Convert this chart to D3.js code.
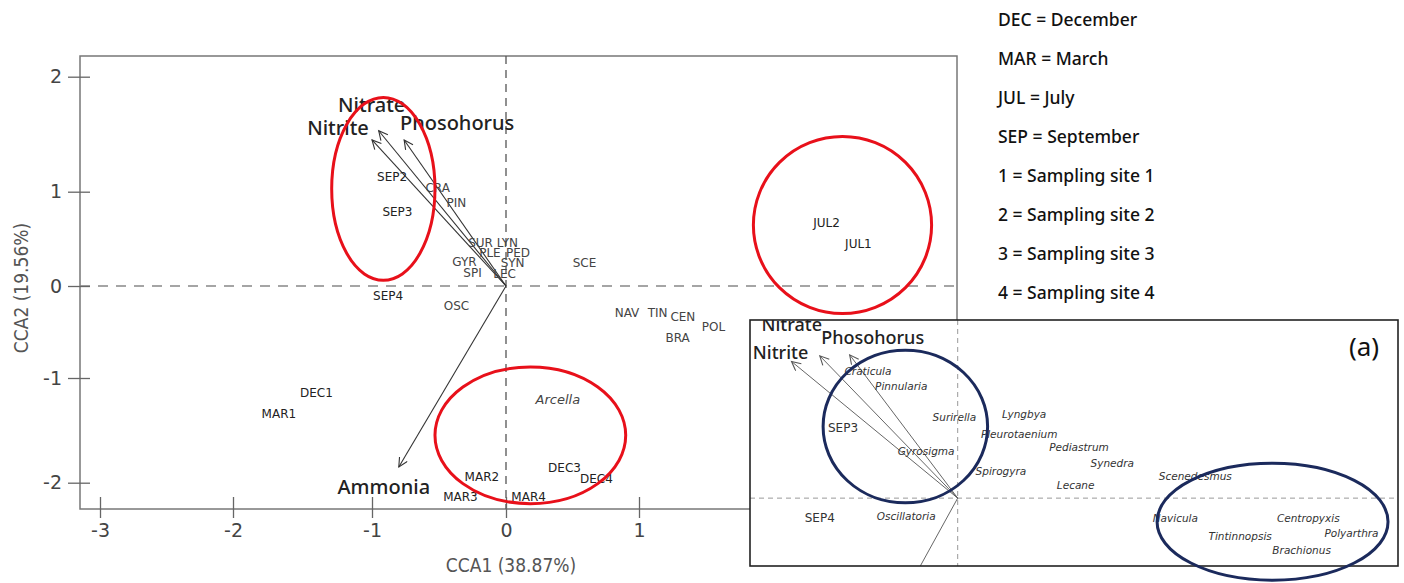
<!DOCTYPE html>
<html>
<head>
<meta charset="utf-8">
<script src="https://cdn.jsdelivr.net/npm/d3@7"></script>
<style>
  body { margin: 0; background: #fff; }
  svg { display: block; }
  .tick text { font-family: "DejaVu Sans", sans-serif; font-size: 19px; fill: #444; }
  .tick line { stroke: #666; stroke-width: 1.3; }
  .site { font-family: "DejaVu Sans", sans-serif; font-size: 12px; fill: #222; }
  .spec { font-family: "DejaVu Sans", sans-serif; font-size: 12px; fill: #444; }
  .env { font-family: "Noto Sans", sans-serif; font-size: 20px; font-weight: 500; fill: #222; }
  .legend { font-family: "Noto Sans", sans-serif; font-size: 17.5px; font-weight: 500; fill: #111; }
  .ititle { font-family: "DejaVu Sans Condensed", "DejaVu Sans", sans-serif; font-size: 19px; fill: #555; }
  .ispec { font-family: "DejaVu Sans", sans-serif; font-size: 10.5px; font-style: italic; fill: #333; }
</style>
</head>
<body>
<div id="chart"></div>
<script>
// axis ticks
var xTicks = [-3, -2, -1, 0, 1];
var yTicks = [-2, -1, 0, 1, 2];

// sampling sites (main biplot)
var siteNames = ["SEP2", "SEP3", "SEP4", "JUL2", "JUL1", "DEC1", "MAR1", "MAR2", "DEC3", "DEC4", "MAR3", "MAR4"];
var siteX = [-0.85, -0.81, -0.88, 2.41, 2.65, -1.40, -1.67, -0.18, 0.44, 0.68, -0.34, 0.17];
var siteY = [1.13, 0.78, -0.11, 0.67, 0.45, -1.14, -1.34, -1.95, -1.86, -1.96, -2.14, -2.14];

// species (main biplot)
var specNames = ["CRA", "PIN", "SUR", "LYN", "PLE", "PED", "GYR", "SYN", "SPI", "LEC", "SCE", "OSC", "NAV", "TIN", "CEN", "BRA", "POL", "Arcella"];
var specX = [-0.51, -0.37, -0.19, 0.01, -0.12, 0.09, -0.31, 0.05, -0.25, -0.01, 0.59, -0.37, 0.91, 1.14, 1.33, 1.29, 1.56, 0.39];
var specY = [1.03, 0.88, 0.46, 0.46, 0.35, 0.35, 0.25, 0.24, 0.14, 0.13, 0.24, -0.22, -0.29, -0.29, -0.34, -0.57, -0.45, -1.21];

// environmental vectors
var envNames = ["Nitrate", "Nitrite", "Phosohorus", "Ammonia"];
var envX = [-0.95, -1.00, -0.76, -0.80];
var envY = [1.53, 1.45, 1.45, -1.85];

// highlighted groups (data extents x0, x1, y0, y1)
var groupX0 = [-1.29, 1.86, -0.53];
var groupX1 = [-0.53, 3.20, 0.90];
var groupY0 = [0.06, -0.30, -2.20];
var groupY1 = [1.82, 1.48, -0.88];

// legend
var legendLines = ["DEC = December", "MAR = March", "JUL = July", "SEP = September",
  "1 = Sampling site 1", "2 = Sampling site 2", "3 = Sampling site 3", "4 = Sampling site 4"];

// inset (a)
var insetSites = ["SEP3", "SEP4"];
var insetSiteX = [-0.69, -0.83];
var insetSiteY = [0.74, -0.21];
var insetSpecNames = ["Craticula", "Pinnularia", "Surirella", "Lyngbya", "Pleurotaenium", "Pediastrum", "Synedra",
  "Spirogyra", "Lecane", "Scenedesmus", "Gyrosigma", "Oscillatoria", "Navicula", "Centropyxis", "Tintinnopsis",
  "Polyarthra", "Brachionus"];
var insetSpecX = [-0.54, -0.34, -0.02, 0.40, 0.37, 0.73, 0.93, 0.26, 0.71, 1.43, -0.19, -0.31, 1.31, 2.11, 1.70, 2.37, 2.07];
var insetSpecY = [1.35, 1.19, 0.86, 0.89, 0.68, 0.54, 0.37, 0.29, 0.14, 0.23, 0.50, -0.19, -0.21, -0.21, -0.40, -0.37, -0.55];
var insetEnvNames = ["Nitrate", "Nitrite", "Phosohorus", "Ammonia"];
var insetEnvX = [-0.83, -1.00, -0.65, -0.50];
var insetEnvY = [1.51, 1.45, 1.52, -1.60];
var insetGroupX0 = [-0.81, 1.20];
var insetGroupX1 = [0.18, 2.59];
var insetGroupY0 = [-0.05, -0.87];
var insetGroupY1 = [1.57, 0.37];

var W = 1404, H = 583;
var box = {left: 80, top: 56, right: 957, bottom: 509};

var svg = d3.select("#chart").append("svg")
  .attr("width", W).attr("height", H);

var defs = svg.append("defs");
function marker(id, color) {
  defs.append("marker")
    .attr("id", id)
    .attr("markerUnits", "userSpaceOnUse")
    .attr("markerWidth", 12).attr("markerHeight", 12)
    .attr("refX", 10).attr("refY", 5)
    .attr("orient", "auto")
    .append("path")
    .attr("d", "M1,0.5 L10,5 L1,9.5")
    .attr("fill", "none")
    .attr("stroke", color)
    .attr("stroke-width", 1.1);
}
marker("arr", "#333");
marker("arrI", "#555");

// scales (the original figure has slightly uneven tick spacing)
var x = d3.scaleLinear().domain(xTicks).range([100, 233, 372, 506, 639]);
var y = d3.scaleLinear().domain(yTicks).range([482.7, 378, 286, 191.7, 76.7]);
var fmt = function(d) { return String(d); };

// frame
svg.append("rect")
  .attr("x", box.left).attr("y", box.top)
  .attr("width", box.right - box.left).attr("height", box.bottom - box.top)
  .attr("fill", "none").attr("stroke", "#777").attr("stroke-width", 1.5);

// zero lines
svg.append("line")
  .attr("x1", box.left).attr("x2", box.right)
  .attr("y1", y(0)).attr("y2", y(0))
  .attr("stroke", "#888").attr("stroke-width", 1.6).attr("stroke-dasharray", "10,8");
svg.append("line")
  .attr("x1", x(0)).attr("x2", x(0))
  .attr("y1", box.top).attr("y2", box.bottom)
  .attr("stroke", "#555").attr("stroke-width", 1.3).attr("stroke-dasharray", "8,6");

// y axis
var gy = svg.append("g")
  .attr("transform", "translate(" + box.left + ",0)")
  .call(d3.axisLeft(y).tickValues(yTicks).tickSize(12).tickPadding(6).tickFormat(fmt));
gy.select(".domain").remove();
gy.selectAll(".tick line").attr("x1", 10);

// x axis
var gx = svg.append("g")
  .attr("transform", "translate(0," + box.bottom + ")")
  .call(d3.axisBottom(x).tickValues(xTicks).tickSize(9).tickPadding(6).tickFormat(fmt));
gx.select(".domain").remove();
gx.selectAll(".tick line").attr("y1", -12);

// axis titles
svg.append("text").attr("class", "ititle")
  .attr("x", 511).attr("y", 565)
  .attr("text-anchor", "middle").attr("dominant-baseline", "central")
  .text("CCA1 (38.87%)");
svg.append("text").attr("class", "ititle")
  .attr("transform", "translate(21,288) rotate(-90)")
  .attr("text-anchor", "middle").attr("dominant-baseline", "central")
  .text("CCA2 (19.56%)");

// env arrows
var origin = [x(0), y(0)];
var envOffset = [[-7, -26], [-34, -12], [53, -17], [-15, 20]];
envNames.forEach(function(n, i) {
  svg.append("line")
    .attr("x1", origin[0]).attr("y1", origin[1])
    .attr("x2", x(envX[i])).attr("y2", y(envY[i]))
    .attr("stroke", "#333").attr("stroke-width", 1.1)
    .attr("marker-end", "url(#arr)");
  svg.append("text").attr("class", "env")
    .attr("x", x(envX[i]) + envOffset[i][0]).attr("y", y(envY[i]) + envOffset[i][1])
    .attr("text-anchor", "middle").attr("dominant-baseline", "central")
    .text(n);
});

// species labels
specNames.forEach(function(n, i) {
  svg.append("text").attr("class", "spec")
    .attr("x", x(specX[i])).attr("y", y(specY[i]))
    .attr("text-anchor", "middle").attr("dominant-baseline", "central")
    .style("font-style", n === "Arcella" ? "italic" : null)
    .style("font-size", n === "Arcella" ? "13px" : null)
    .text(n);
});

// site labels
siteNames.forEach(function(n, i) {
  svg.append("text").attr("class", "site")
    .attr("x", x(siteX[i])).attr("y", y(siteY[i]))
    .attr("text-anchor", "middle").attr("dominant-baseline", "central")
    .text(n);
});

// red group ellipses
groupX0.forEach(function(d, i) {
  var a = x(groupX0[i]), b = x(groupX1[i]), t = y(groupY1[i]), u = y(groupY0[i]);
  svg.append("ellipse")
    .attr("cx", (a + b) / 2).attr("cy", (t + u) / 2)
    .attr("rx", (b - a) / 2).attr("ry", (u - t) / 2)
    .attr("fill", "none").attr("stroke", "#e8101a").attr("stroke-width", 3);
});

// legend
svg.append("g").selectAll("text")
  .data(legendLines)
  .enter().append("text")
  .attr("class", "legend")
  .attr("x", 998)
  .attr("y", function(d, i) { return 19 + i * 39; })
  .attr("dominant-baseline", "central")
  .text(function(d) { return d; });

// ---- inset (a) ----
var ib = {left: 750, top: 320, right: 1398, bottom: 566};
var ix = d3.scaleLinear().domain([-1.25, 2.65]).range([ib.left, ib.right]);
var iy = d3.scaleLinear().domain([-0.72, 1.89]).range([ib.bottom, ib.top]);

defs.append("clipPath").attr("id", "insetClip")
  .append("rect")
  .attr("x", ib.left).attr("y", ib.top)
  .attr("width", ib.right - ib.left).attr("height", ib.bottom - ib.top);

var inset = svg.append("g");
inset.append("rect")
  .attr("x", ib.left).attr("y", ib.top)
  .attr("width", ib.right - ib.left).attr("height", ib.bottom - ib.top)
  .attr("fill", "#fff");

var ic = inset.append("g").attr("clip-path", "url(#insetClip)");

ic.append("line")
  .attr("x1", ib.left).attr("x2", ib.right)
  .attr("y1", iy(0)).attr("y2", iy(0))
  .attr("stroke", "#999").attr("stroke-width", 1).attr("stroke-dasharray", "5,4");
ic.append("line")
  .attr("x1", ix(0)).attr("x2", ix(0))
  .attr("y1", ib.top).attr("y2", ib.bottom)
  .attr("stroke", "#999").attr("stroke-width", 1).attr("stroke-dasharray", "5,4");

var iEnvOffset = [[-28, -32], [-11, -9], [23, -18], [0, 0]];
insetEnvNames.forEach(function(n, i) {
  ic.append("line")
    .attr("x1", ix(0)).attr("y1", iy(0))
    .attr("x2", ix(insetEnvX[i])).attr("y2", iy(insetEnvY[i]))
    .attr("stroke", "#555").attr("stroke-width", 0.9)
    .attr("marker-end", n === "Ammonia" ? null : "url(#arrI)");
  if (n !== "Ammonia") {
    ic.append("text").attr("class", "env")
      .style("font-size", "18px").style("font-weight", 500)
      .attr("x", ix(insetEnvX[i]) + iEnvOffset[i][0]).attr("y", iy(insetEnvY[i]) + iEnvOffset[i][1])
      .attr("text-anchor", "middle").attr("dominant-baseline", "central")
      .text(n);
  }
});

insetSpecNames.forEach(function(n, i) {
  ic.append("text").attr("class", "ispec")
    .attr("x", ix(insetSpecX[i])).attr("y", iy(insetSpecY[i]))
    .attr("text-anchor", "middle").attr("dominant-baseline", "central")
    .text(n);
});
insetSites.forEach(function(n, i) {
  ic.append("text").attr("class", "site")
    .style("fill", "#333")
    .attr("x", ix(insetSiteX[i])).attr("y", iy(insetSiteY[i]))
    .attr("text-anchor", "middle").attr("dominant-baseline", "central")
    .text(n);
});

ic.append("text")
  .attr("x", 1364).attr("y", 346)
  .attr("text-anchor", "middle").attr("dominant-baseline", "central")
  .style("font-family", "Noto Sans, sans-serif").style("font-size", "26px").style("fill", "#111")
  .text("(a)");

inset.append("rect")
  .attr("x", ib.left).attr("y", ib.top)
  .attr("width", ib.right - ib.left).attr("height", ib.bottom - ib.top)
  .attr("fill", "none").attr("stroke", "#222").attr("stroke-width", 1.6);

insetGroupX0.forEach(function(d, i) {
  var a = ix(insetGroupX0[i]), b = ix(insetGroupX1[i]), t = iy(insetGroupY1[i]), u = iy(insetGroupY0[i]);
  inset.append("ellipse")
    .attr("cx", (a + b) / 2).attr("cy", (t + u) / 2)
    .attr("rx", (b - a) / 2).attr("ry", (u - t) / 2)
    .attr("fill", "none").attr("stroke", "#1b2a5c").attr("stroke-width", 3);
});
</script>
</body>
</html>
